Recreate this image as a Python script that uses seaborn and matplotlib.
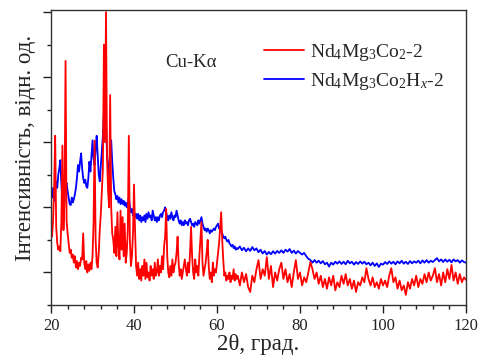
import numpy as np
import pandas as pd
import matplotlib
matplotlib.use("Agg")
import matplotlib.pyplot as plt
import seaborn as sns

# 2theta grid: fine step in the peak region, coarser in the tail
two_theta_a = np.arange(20.0, 65.0, 0.25)
two_theta_b = np.arange(65.0, 120.01, 0.5)

# Nd4Mg3Co2-2 (red), 20..64.75 step 0.25
red_a = [
    2.3, 2.1, 2.6, 3.6, 5.2, 2.4, 1.9, 1.7, 1.8, 1.65, 2.6, 4.9,
    2.3, 3.2, 7.5, 2.6, 2.2, 1.9, 1.6, 1.7, 1.45, 1.55, 1.3, 1.5,
    1.15, 1.35, 1.1, 1.3, 1.2, 1.45, 1.4, 2.2, 1.3, 1.1, 1.35, 1.0,
    1.25, 1.05, 1.3, 1.1, 1.5, 2.5, 5.05, 2.0, 1.3, 1.15, 1.6, 2.3,
    2.8, 3.5, 4.2, 8.0, 5.0, 9.0, 4.5, 3.5, 3.0, 6.45, 3.0, 2.2,
    2.0, 1.6, 2.4, 1.5, 2.85, 1.8, 1.4, 2.9, 1.7, 2.7, 1.5, 2.5,
    1.3, 1.6, 2.3, 5.2, 2.0, 1.2, 1.5, 2.2, 3.7, 2.3, 1.2, 0.9,
    1.3, 0.8, 1.1, 0.75, 1.2, 0.9, 1.4, 0.8, 1.3, 0.85, 1.0, 0.75,
    1.2, 0.9, 1.1, 0.8, 1.3, 0.9, 1.0, 1.4, 0.9, 1.2, 1.0, 1.5,
    1.1, 1.8, 2.1, 2.95, 1.5, 1.0, 0.85, 1.2, 0.9, 1.4, 1.0, 1.2,
    1.3, 1.6, 2.1, 1.3, 0.9, 1.1, 0.8, 1.0, 1.2, 1.4, 1.1, 0.9,
    1.3, 1.0, 1.6, 2.4, 1.5, 1.0, 0.8, 1.4, 1.0, 1.2, 0.9, 1.5,
    2.0, 2.55, 1.3, 0.9, 1.1, 1.3, 1.6, 2.0, 1.2, 0.8, 1.0, 0.7,
    1.3, 0.9, 1.1, 1.0, 1.3, 1.6, 1.9, 2.4, 2.85, 2.0, 1.4, 0.9,
    1.0, 0.75, 0.9, 0.8, 1.0, 0.7, 0.9, 0.8, 1.1, 0.75, 0.95, 0.8,
]
# Nd4Mg3Co2-2 (red), 65..120 step 0.5
red_b = [
    0.9, 0.6, 1.0, 0.7, 0.95, 0.55, 0.4, 0.9, 0.7, 1.1, 1.38, 0.8,
    1.1, 0.9, 1.47, 0.8, 1.2, 0.55, 1.0, 0.75, 1.1, 1.3, 0.8, 1.1,
    0.7, 0.95, 0.55, 1.0, 1.38, 0.8, 1.0, 0.6, 0.85, 0.7, 1.0, 1.32,
    1.1, 0.8, 1.0, 0.65, 0.9, 0.55, 0.8, 0.5, 0.85, 0.6, 0.9, 0.45,
    0.7, 0.55, 0.9, 0.65, 0.95, 0.6, 0.8, 0.5, 0.75, 0.4, 0.7, 0.6,
    0.85, 0.7, 1.13, 0.8, 0.6, 0.85, 0.55, 0.7, 0.5, 0.8, 0.6, 0.75,
    0.55, 0.9, 1.13, 0.7, 0.85, 0.5, 0.75, 0.45, 0.6, 0.31, 0.7, 0.5,
    0.8, 0.6, 0.9, 0.55, 0.8, 0.65, 0.95, 0.7, 1.0, 0.75, 0.9, 1.13,
    0.7, 0.95, 0.6, 1.0, 0.7, 1.1, 0.8, 1.23, 0.75, 1.0, 0.65, 0.95,
    0.7, 0.85, 0.77,
]

# Nd4Mg3Co2Hx-2 (blue), 20..64.75 step 0.25
blue_a = [
    3.5, 3.3, 3.6, 3.2, 3.45, 3.8, 3.6, 4.0, 4.2, 4.45, 3.7, 3.2,
    3.5, 3.8, 3.6, 3.75, 3.5, 3.3, 3.1, 3.07, 3.3, 3.15, 3.25, 3.4,
    3.6, 3.9, 4.3, 4.1, 4.4, 4.66, 4.2, 3.9, 3.75, 3.85, 3.65, 3.6,
    3.9, 4.4, 4.1, 4.6, 5.06, 4.5, 4.3, 4.8, 5.2, 4.6, 4.0, 3.8,
    4.3, 4.75, 5.2, 5.9, 6.5, 5.6, 4.6, 4.3, 4.0, 4.6, 5.06, 4.4,
    3.9, 3.5, 3.4, 3.25, 3.35, 3.15, 3.3, 3.1, 3.25, 3.1, 3.2, 3.05,
    3.15, 3.0, 3.1, 3.3, 3.05, 2.85, 2.95, 2.75, 2.85, 2.7, 2.8, 2.65,
    2.8, 2.6, 2.75, 2.55, 2.7, 2.6, 2.75, 2.55, 2.8, 2.65, 2.85, 2.7,
    2.75, 2.6, 2.9, 2.75, 2.6, 2.7, 2.55, 2.7, 2.6, 2.75, 2.8, 2.7,
    2.85, 2.9, 3.0, 2.85, 2.7, 2.6, 2.75, 2.65, 2.85, 2.7, 2.6, 2.75,
    2.7, 2.9, 2.75, 2.6, 2.5, 2.6, 2.45, 2.55, 2.45, 2.6, 2.5, 2.55,
    2.45, 2.6, 2.65, 2.55, 2.45, 2.5, 2.4, 2.55, 2.5, 2.45, 2.6, 2.5,
    2.6, 2.7, 2.5, 2.4, 2.3, 2.35, 2.25, 2.35, 2.3, 2.2, 2.3, 2.25,
    2.3, 2.35, 2.3, 2.4, 2.45, 2.5, 2.35, 2.4, 2.25, 2.2, 2.1, 2.05,
    2.1, 2.0, 1.95, 2.0, 1.9, 1.85, 1.8, 1.85, 1.75, 1.8, 1.7, 1.75,
]
# Nd4Mg3Co2Hx-2 (blue), 65..120 step 0.5
blue_b = [
    1.72, 1.8, 1.68, 1.76, 1.65, 1.74, 1.66, 1.78, 1.68, 1.74, 1.62, 1.7,
    1.58, 1.66, 1.55, 1.63, 1.56, 1.65, 1.58, 1.66, 1.6, 1.68, 1.6, 1.7,
    1.64, 1.72, 1.6, 1.67, 1.58, 1.66, 1.6, 1.55, 1.6, 1.5, 1.42, 1.38,
    1.3, 1.38, 1.3, 1.36, 1.28, 1.35, 1.25, 1.3, 1.18, 1.3, 1.24, 1.33,
    1.27, 1.34, 1.26, 1.33, 1.25, 1.36, 1.28, 1.33, 1.24, 1.32, 1.26, 1.34,
    1.27, 1.33, 1.25, 1.3, 1.22, 1.3, 1.2, 1.28, 1.17, 1.27, 1.24, 1.32,
    1.26, 1.34, 1.27, 1.33, 1.25, 1.34, 1.28, 1.36, 1.27, 1.33, 1.26, 1.35,
    1.28, 1.34, 1.3, 1.36, 1.28, 1.37, 1.3, 1.38, 1.3, 1.36, 1.32, 1.38,
    1.44, 1.34, 1.4, 1.32, 1.4, 1.33, 1.39, 1.31, 1.4, 1.34, 1.38, 1.3,
    1.37, 1.32, 1.3,
]

red_label = r"Nd$_4$Mg$_3$Co$_2$-2"
blue_label = r"Nd$_4$Mg$_3$Co$_2$H$_x$-2"

two_theta = np.concatenate([two_theta_a, two_theta_b])
red = pd.DataFrame({"x": two_theta, "y": red_a + red_b})
blue = pd.DataFrame({"x": two_theta, "y": blue_a + blue_b})

sns.set_style("ticks")
plt.rcParams["font.family"] = ["Liberation Serif", "DejaVu Serif"]
plt.rcParams["mathtext.fontset"] = "custom"
plt.rcParams["mathtext.rm"] = "Liberation Serif"
plt.rcParams["mathtext.it"] = "Liberation Serif:italic"

fig = plt.figure(figsize=(4.79, 3.56), dpi=100)
ax = fig.add_axes([0.1065, 0.1433, 0.8664, 0.8300])

sns.lineplot(data=blue, x="x", y="y", color="#0000ff", lw=1.3,
             estimator=None, ax=ax, label=blue_label)
sns.lineplot(data=red, x="x", y="y", color="#ff0000", lw=1.3,
             estimator=None, ax=ax, label=red_label)

ax.set_xlim(20, 120)
ax.set_ylim(0, 9.08)
ax.set_xticks([20, 40, 60, 80, 100, 120])
ax.set_xticks(np.arange(20, 121, 4), minor=True)
ax.set_yticks([1, 3, 5, 7, 9])
ax.set_yticks([0, 2, 4, 6, 8], minor=True)
ax.set_yticklabels([])
ax.tick_params(axis="both", which="major", length=6, width=1, direction="out",
               labelsize=12, colors="#222222")
ax.tick_params(axis="both", which="minor", length=3, width=1, direction="out",
               colors="#222222")
for s in ax.spines.values():
    s.set_visible(True)
    s.set_linewidth(1.0)
    s.set_color("#333333")

ax.set_xlabel("2θ, град.", fontsize=16.5, labelpad=0)
ax.set_ylabel("Інтенсивність, відн. од.", fontsize=16.5)
ax.yaxis.set_label_coords(-0.035, 0.532)

ax.text(0.275, 0.82, "Cu-Kα", transform=ax.transAxes, fontsize=13.5,
        va="center", ha="left")

handles, labels = ax.get_legend_handles_labels()
ax.legend(handles[::-1], labels[::-1], loc="upper left",
          bbox_to_anchor=(0.47, 0.95), frameon=False, fontsize=14,
          handlelength=2.1, handletextpad=0.3, labelspacing=0.42)

fig.savefig("out.png", dpi=100)
